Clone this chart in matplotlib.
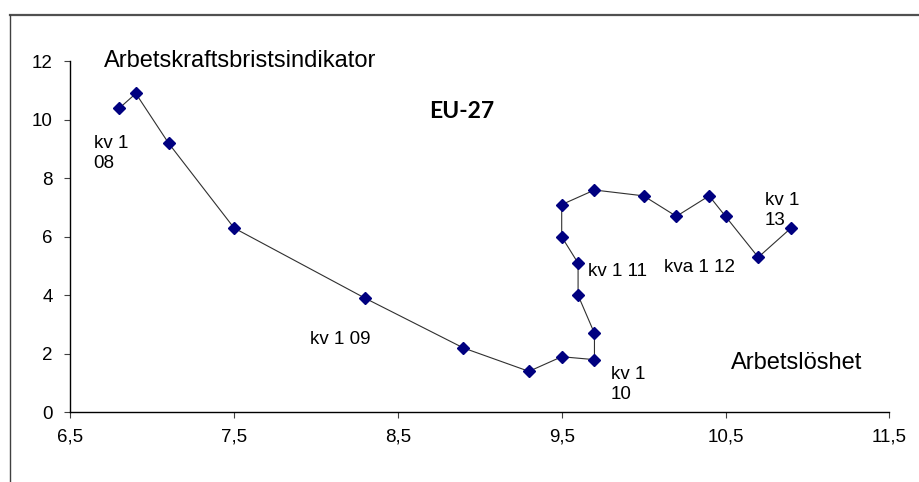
import matplotlib
matplotlib.use("Agg")
import matplotlib.pyplot as plt
from matplotlib.lines import Line2D

# Data: unemployment (x) vs labour shortage indicator (y), EU-27, 2008Q1-2013Q1
unemployment = [6.8, 6.9, 7.1, 7.5, 8.3, 8.9, 9.3, 9.5, 9.7, 9.7, 9.6,
                9.6, 9.5, 9.5, 9.7, 10.0, 10.2, 10.4, 10.5, 10.7, 10.9]
shortage = [10.4, 10.9, 9.2, 6.3, 3.9, 2.2, 1.4, 1.9, 1.8, 2.7, 4.0,
            5.1, 6.0, 7.1, 7.6, 7.4, 6.7, 7.4, 6.7, 5.3, 6.3]

x_ticks = [6.5, 7.5, 8.5, 9.5, 10.5, 11.5]
x_tick_labels = ["6,5", "7,5", "8,5", "9,5", "10,5", "11,5"]
y_ticks = [0, 2, 4, 6, 8, 10, 12]

point_labels = ["kv 1\n08", "kv 1 09", "kv 1\n10", "kv 1 11", "kva 1 12", "kv 1\n13"]
label_pos = [(6.643, 8.86), (7.965, 2.50), (9.801, 0.96), (9.659, 4.81),
             (10.125, 4.96), (10.741, 6.91)]

plt.rcParams['font.family'] = ['Liberation Sans', 'DejaVu Sans']

fig = plt.figure(figsize=(9.19, 4.82), dpi=100)
W, H = 919, 482

# outer frame (top and left lines visible)
fig.add_artist(Line2D([9.5 / W, 1.0], [1 - 15 / H, 1 - 15 / H], color='#505050', lw=1.6,
                      transform=fig.transFigure))
fig.add_artist(Line2D([9.5 / W, 9.5 / W], [0, 1 - 15 / H], color='#404040', lw=1.0,
                      transform=fig.transFigure))

ax = fig.add_axes([70.3 / W, 1 - 412.3 / H, (889.3 - 70.3) / W, (412.3 - 61.3) / H])

ax.plot(unemployment, shortage, color='#303030', lw=0.8, marker='D',
        markersize=6, markerfacecolor='#000080', markeredgecolor='#000080', zorder=3)

ax.set_xlim(6.5, 11.5)
ax.set_ylim(0, 12)
ax.set_xticks(x_ticks)
ax.set_xticklabels(x_tick_labels)
ax.set_yticks(y_ticks)
for s in ['top', 'right']:
    ax.spines[s].set_visible(False)
for s in ['left', 'bottom']:
    ax.spines[s].set_color('black')
    ax.spines[s].set_linewidth(1.0)
ax.tick_params(axis='both', direction='out', length=4.5, width=0.8, labelsize=13.5,
               color='#404040')
ax.tick_params(axis='x', pad=7.5)
ax.tick_params(axis='y', pad=8)

for txt, (px, py) in zip(point_labels, label_pos):
    ax.text(px, py, txt, fontsize=13.5, ha='left', va='center', linespacing=1.25)

ax.text(6.706, 12.0, "Arbetskraftsbristsindikator", fontsize=17, ha='left', va='center',
        clip_on=False)
ax.text(10.534, 1.675, "Arbetslöshet", fontsize=17, ha='left', va='center')
ax.text(8.891, 10.3, "EU-27", fontsize=16.5, fontweight='bold', ha='center', va='center',
        family=['Lato', 'DejaVu Sans'])

fig.savefig("out.png", dpi=100)
